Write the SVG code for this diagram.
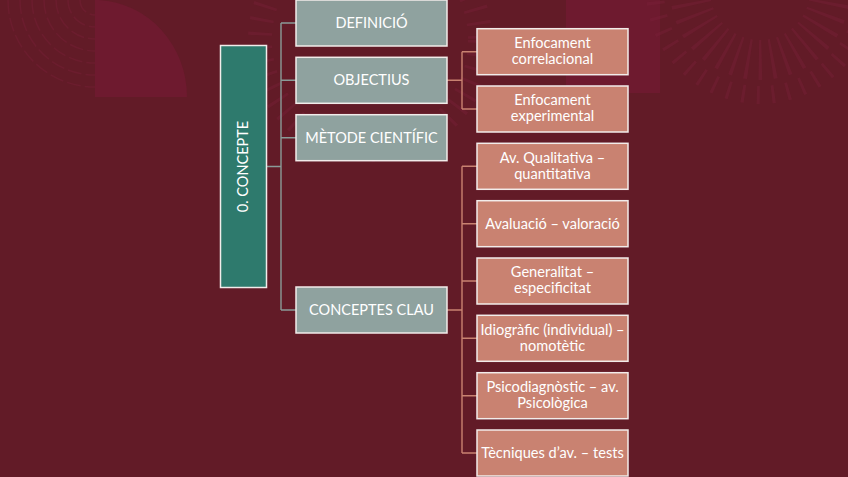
<svg xmlns="http://www.w3.org/2000/svg" width="848" height="477" viewBox="0 0 848 477">
  <defs>
    <style>
      .bg { fill: #621B27; }
      .deco { fill: #6E1A2F; }
      .ring { fill: none; stroke: #7A2039; opacity: 0.4; }
      .root rect { fill: #2E7A6D; stroke: #F2ECEA; stroke-width: 1.5; }
      .l1 rect { fill: #8FA29F; stroke: #F2ECEA; stroke-width: 1.5; }
      .l2 rect { fill: #C98271; stroke: #F2ECEA; stroke-width: 1.5; }
      text { font-family: "Lato", "Open Sans", sans-serif; fill: #FFFFFF; text-anchor: middle; }
      .t1 { font-size: 14.5px; }
      .t2 { font-size: 14.6px; }
      .cg { fill: none; stroke: #8A9B98; stroke-width: 1.4; }
      .cs { fill: none; stroke: #C98271; stroke-width: 1.4; }
    </style>
  </defs>

  <rect class="bg" x="0" y="0" width="848" height="477"/>

  <!-- background decoration -->
  <g id="decoration">
    <path class="deco" d="M95 0 L99 0 A93 97 0 0 1 187 97 L95 97 Z"/>
    <rect class="deco" x="566" y="0" width="94" height="93"/>
    <g class="ring" stroke-width="1.5" stroke-dasharray="14 4">
      <path d="M80 0 A15 15 0 0 0 95 15"/>
      <path d="M68 0 A27 27 0 0 0 95 27"/>
      <path d="M56 0 A39 39 0 0 0 95 39"/>
      <path d="M44 0 A51 51 0 0 0 95 51"/>
      <path d="M32 0 A63 63 0 0 0 95 63"/>
      <path d="M20 0 A75 75 0 0 0 95 75"/>
      <path d="M8 0 A87 87 0 0 0 95 87"/>
    </g>
    <circle class="ring" cx="760" cy="-10" r="70" stroke-width="40" stroke-dasharray="3 9"/>
    <circle class="ring" cx="760" cy="-10" r="105" stroke-width="18" stroke-dasharray="3 12"/>
    <circle class="ring" cx="370" cy="40" r="110" stroke-width="24" stroke-dasharray="3 11"/>
  </g>

  <!-- connectors -->
  <g id="connectors">
    <path class="cg" d="M266 166.5 H281 M281 23 V310 M281 23 H296 M281 80.3 H296 M281 137.7 H296 M281 310 H296"/>
    <path class="cs" d="M447 80.3 H462 M462 51.7 V109 M462 51.7 H477 M462 109 H477"/>
    <path class="cs" d="M447 310 H462 M462 166.3 V453 M462 166.3 H477 M462 223.7 H477 M462 281 H477 M462 338.3 H477 M462 395.7 H477 M462 453 H477"/>
  </g>

  <!-- root -->
  <g id="node-concepte" class="root">
    <rect x="220.5" y="45.5" width="46" height="242"/>
    <text class="t1" transform="translate(248 166.5) rotate(-90)">0. CONCEPTE</text>
  </g>

  <!-- level 1 -->
  <g id="node-definicio" class="l1">
    <rect x="296" y="0" width="151" height="46"/>
    <text class="t1" x="371.5" y="28">DEFINICIÓ</text>
  </g>
  <g id="node-objectius" class="l1">
    <rect x="296" y="57.3" width="151" height="46"/>
    <text class="t1" x="371.5" y="85.3">OBJECTIUS</text>
  </g>
  <g id="node-metode" class="l1">
    <rect x="296" y="114.7" width="151" height="46"/>
    <text class="t1" x="371.5" y="142.7">MÈTODE CIENTÍFIC</text>
  </g>
  <g id="node-conceptes-clau" class="l1">
    <rect x="296" y="287" width="151" height="46"/>
    <text class="t1" x="371.5" y="315">CONCEPTES CLAU</text>
  </g>

  <!-- level 2 -->
  <g id="node-correlacional" class="l2">
    <rect x="477" y="28.7" width="151" height="46"/>
    <text class="t2" x="552.5" y="48">Enfocament</text>
    <text class="t2" x="552.5" y="64">correlacional</text>
  </g>
  <g id="node-experimental" class="l2">
    <rect x="477" y="86" width="151" height="46"/>
    <text class="t2" x="552.5" y="105.3">Enfocament</text>
    <text class="t2" x="552.5" y="121.3">experimental</text>
  </g>
  <g id="node-qualitativa" class="l2">
    <rect x="477" y="143.3" width="151" height="46"/>
    <text class="t2" x="552.5" y="162.6">Av. Qualitativa –</text>
    <text class="t2" x="552.5" y="178.6">quantitativa</text>
  </g>
  <g id="node-avaluacio" class="l2">
    <rect x="477" y="200.7" width="151" height="46"/>
    <text class="t2" x="552.5" y="228.8">Avaluació – valoració</text>
  </g>
  <g id="node-generalitat" class="l2">
    <rect x="477" y="258" width="151" height="46"/>
    <text class="t2" x="552.5" y="277.3">Generalitat –</text>
    <text class="t2" x="552.5" y="293.3">especificitat</text>
  </g>
  <g id="node-idiografic" class="l2">
    <rect x="477" y="315.3" width="151" height="46"/>
    <text class="t2" x="552.5" y="334.6">Idiogràfic (individual) –</text>
    <text class="t2" x="552.5" y="350.6">nomotètic</text>
  </g>
  <g id="node-psicodiagnostic" class="l2">
    <rect x="477" y="372.7" width="151" height="46"/>
    <text class="t2" x="552.5" y="392">Psicodiagnòstic – av.</text>
    <text class="t2" x="552.5" y="408">Psicològica</text>
  </g>
  <g id="node-tecniques" class="l2">
    <rect x="477" y="430" width="151" height="46"/>
    <text class="t2" x="552.5" y="458.1">Tècniques d’av. – tests</text>
  </g>
</svg>
